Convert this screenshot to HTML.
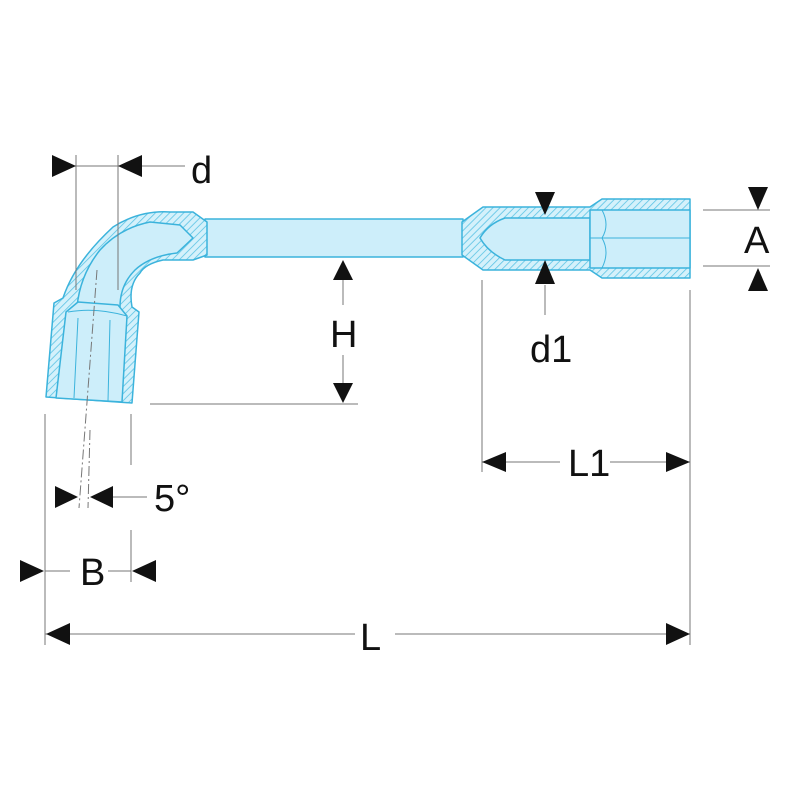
<!DOCTYPE html>
<html><head><style>body{margin:0;background:#fff}svg{display:block}text{font-family:"Liberation Sans",sans-serif;fill:#111}</style></head>
<body>
<svg width="800" height="800" viewBox="0 0 800 800" xmlns="http://www.w3.org/2000/svg">
<defs>
<pattern id="h" patternUnits="userSpaceOnUse" width="5" height="5" patternTransform="rotate(45)">
<rect width="5" height="5" fill="#d4f1fb"/><line x1="0" y1="0" x2="0" y2="5" stroke="#5cc3e4" stroke-width="1.6"/>
</pattern>
</defs>
<g stroke="#3bb3dc" stroke-width="1.5" stroke-linejoin="round">
<rect x="205" y="219" width="258" height="38" fill="#cdeefa"/>
<path d="M462 222 L483 207 L590 207 L602 199 L690 199 L690 278 L602 278 L590 270 L483 270 L462 255 Z" fill="url(#h)"/>
<path d="M480 238 Q488 224 505 218 L590 218 L590 260 L505 260 Q488 252 480 238 Z" fill="#cdeefa"/>
<rect x="590" y="210" width="100" height="58" fill="#cdeefa"/>
<path d="M590 238 L690 238 M602 210 Q610 225 602 238 Q610 252 602 268" fill="none" stroke-width="1"/>
<path d="M54 303 L63 298 Q75 262 113 227 Q140 210 170 212 L193 212 L207 222 L207 255 L193 260 L163 260 Q145 264 140 273 Q128 285 132 307 L139 312 L132 403 L46 397 Z" fill="url(#h)"/>
<path d="M77 307 Q80 275 100 250 Q120 228 150 222 L180 225 L193 238 L177 253 Q150 256 135 270 Q120 285 120 307 Z" fill="#cdeefa"/>
<path d="M66 312 L78 302 L118 305 L127 316 L122 402 L56 398 Z" fill="#cdeefa"/>
<path d="M68 312 Q96 307 127 316 M78 318 L74 398 M110 320 L108 401" fill="none" stroke-width="1"/>
</g>
<g stroke="#777" stroke-width="1" fill="none">
<line x1="76" y1="155" x2="76" y2="290"/><line x1="118" y1="155" x2="118" y2="290"/>
<line x1="52" y1="166" x2="185" y2="166"/>
<line x1="150" y1="404" x2="358" y2="404"/>
<line x1="343" y1="275" x2="343" y2="305"/><line x1="343" y1="355" x2="343" y2="385"/>
<line x1="703" y1="210" x2="770" y2="210"/><line x1="703" y1="266" x2="770" y2="266"/>
<line x1="545" y1="285" x2="545" y2="315"/>
<line x1="482" y1="280" x2="482" y2="472"/><line x1="690" y1="290" x2="690" y2="645"/>
<line x1="482" y1="462" x2="560" y2="462"/><line x1="610" y1="462" x2="690" y2="462"/>
<line x1="45" y1="414" x2="45" y2="645"/>
<line x1="131" y1="414" x2="131" y2="465"/><line x1="131" y1="530" x2="131" y2="582"/>
<line x1="92" y1="497" x2="147" y2="497"/><line x1="45" y1="571" x2="70" y2="571"/><line x1="108" y1="571" x2="131" y2="571"/>
<line x1="45" y1="634" x2="355" y2="634"/><line x1="395" y1="634" x2="690" y2="634"/>
<path d="M97 270 L79 508 M90 430 L88 508" stroke-dasharray="10 3 2 3"/>
</g>
<g fill="#111">
<path d="M52 155 L76 166 L52 177 Z"/><path d="M142 155 L118 166 L142 177 Z"/>
<path d="M333 280 L343 260 L353 280 Z"/><path d="M333 383 L343 403 L353 383 Z"/>
<path d="M748 187 L758 210 L768 187 Z"/><path d="M748 291 L758 268 L768 291 Z"/>
<path d="M535 192 L545 215 L555 192 Z"/><path d="M535 284 L545 260 L555 284 Z"/>
<path d="M506 452 L482 462 L506 472 Z"/><path d="M666 452 L690 462 L666 472 Z"/>
<path d="M55 486 L78 497 L55 508 Z"/><path d="M113 486 L90 497 L113 508 Z"/>
<path d="M20 560 L44 571 L20 582 Z"/><path d="M156 560 L132 571 L156 582 Z"/>
<path d="M70 623 L46 634 L70 645 Z"/><path d="M666 623 L690 634 L666 645 Z"/>
</g>
<g font-size="38">
<text x="191" y="183">d</text>
<text x="330" y="347">H</text>
<text x="744" y="253">A</text>
<text x="530" y="362">d1</text>
<text x="568" y="476">L1</text>
<text x="154" y="511">5°</text>
<text x="80" y="585">B</text>
<text x="360" y="650">L</text>
</g>
</svg>
</body></html>
